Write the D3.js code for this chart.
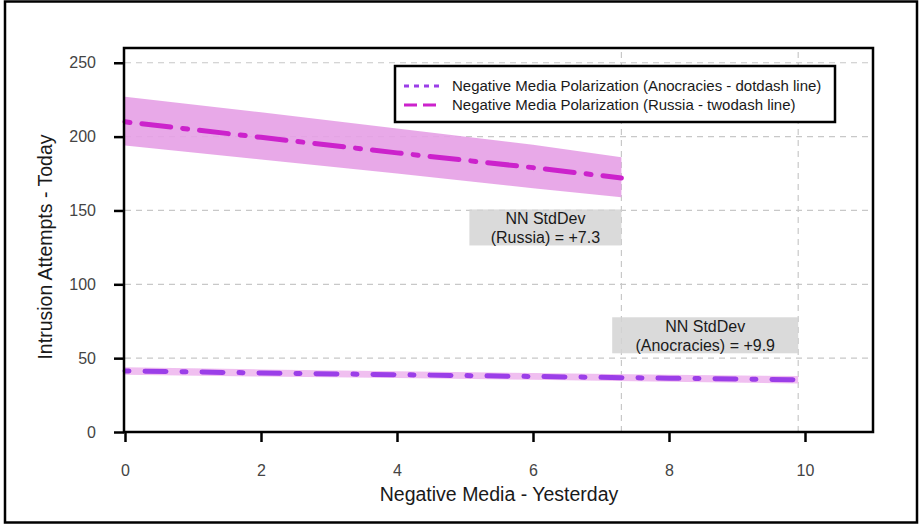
<!DOCTYPE html>
<html lang="en">
<head>
<meta charset="UTF-8">
<title>Negative Media Polarization</title>
<script src="https://d3js.org/d3.v7.min.js"></script>
<style>
    body { margin: 0; background: #ffffff; font-family: 'Liberation Sans', Arial, sans-serif; }
    .tick text { fill: #444; font-size: 16px; }
    .tick line { stroke: #000; stroke-width: 2.5; }
</style>
</head>
<body>
<svg width="920" height="525"></svg>
<script>
    // ---- data ----
    const xTicks = [0, 2, 4, 6, 8, 10];
    const yTicks = [0, 50, 100, 150, 200, 250];
    const vLines = [7.3, 9.9];

    const russiaX = [0, 2, 4, 6, 7.3];
    const russiaFit = [210, 199.5, 189, 179, 172];
    const russiaUpper = [227, 216.5, 205.5, 194.5, 186];
    const russiaLower = [194, 184.5, 175, 165, 159];

    const anocX = [0, 2, 4, 6, 8, 9.9];
    const anocFit = [41.3, 40, 38.8, 37.6, 36.4, 35.4];
    const anocUpper = [43.8, 42.4, 41.1, 39.9, 38.8, 37.9];
    const anocLower = [38.8, 37.6, 36.5, 35.3, 34.0, 32.9];

    const legendLabels = [
        "Negative Media Polarization (Anocracies - dotdash line)",
        "Negative Media Polarization (Russia - twodash line)"
    ];
    const notes = [
        { x: 7.3, y: 150, lines: ["NN StdDev", "(Russia) = +7.3"] },
        { x: 9.9, y: 77, lines: ["NN StdDev", "(Anocracies) = +9.9"] }
    ];

    const svg = d3.select("svg");

    // outer frame
    svg.append("rect")
        .attr("x", 5).attr("y", 1.5).attr("width", 912).attr("height", 521)
        .attr("fill", "#fff").attr("stroke", "#000").attr("stroke-width", 2.5);

    const x = d3.scaleLinear().domain([0, 11]).range([125, 873]);
    const y = d3.scaleLinear().domain([0, 260]).range([432, 48]);

    // grid
    svg.append("g").selectAll("line")
        .data(yTicks.filter(d => d > 0))
        .join("line")
        .attr("x1", x(0)).attr("x2", x(11))
        .attr("y1", d => y(d)).attr("y2", d => y(d))
        .attr("stroke", "#c8c8c8").attr("stroke-width", 1.2)
        .attr("stroke-dasharray", "6,5");

    svg.append("g").selectAll("line")
        .data(vLines)
        .join("line")
        .attr("x1", d => x(d)).attr("x2", d => x(d))
        .attr("y1", y(0)).attr("y2", y(260))
        .attr("stroke", "#c8c8c8").attr("stroke-width", 1.2)
        .attr("stroke-dasharray", "6,5");

    // annotation boxes
    notes.forEach(n => {
        const g = svg.append("g");
        const right = x(n.x);
        const w = n.lines[1].length > 16 ? 186 : 152;
        g.append("rect")
            .attr("x", right - w).attr("y", y(n.y) - 1)
            .attr("width", w).attr("height", 36)
            .attr("fill", "#d3d3d3").attr("opacity", 0.85);
        g.selectAll("text")
            .data(n.lines)
            .join("text")
            .attr("x", right - w / 2)
            .attr("y", (d, i) => y(n.y) + 14 + i * 18.5)
            .attr("text-anchor", "middle")
            .attr("font-size", 16)
            .attr("fill", "#1a1a1a")
            .text(d => d);
    });

    // confidence bands
    const area = d3.area().x(d => x(d[0])).y0(d => y(d[1])).y1(d => y(d[2]));
    const line = d3.line().x(d => x(d[0])).y(d => y(d[1]));

    svg.append("path")
        .datum(russiaX.map((v, i) => [v, russiaLower[i], russiaUpper[i]]))
        .attr("d", area).attr("fill", "#e6a0e6").attr("opacity", 0.9);
    svg.append("path")
        .datum(anocX.map((v, i) => [v, anocLower[i], anocUpper[i]]))
        .attr("d", area).attr("fill", "#eeb8ee").attr("opacity", 0.9);

    svg.append("path")
        .datum(russiaX.map((v, i) => [v, russiaFit[i]]))
        .attr("d", line).attr("fill", "none")
        .attr("stroke", "#cc22cc").attr("stroke-width", 5)
        .attr("stroke-linecap", "round")
        .attr("stroke-dasharray", "5,12,29,12");
    svg.append("path")
        .datum(anocX.map((v, i) => [v, anocFit[i]]))
        .attr("d", line).attr("fill", "none")
        .attr("stroke", "#9b3ee8").attr("stroke-width", 5)
        .attr("stroke-linecap", "round")
        .attr("stroke-dasharray", "4,16,21,16");

    // panel box
    svg.append("rect")
        .attr("x", 124).attr("y", 48).attr("width", 749).attr("height", 384)
        .attr("fill", "none").attr("stroke", "#000").attr("stroke-width", 2.5);

    // axes
    svg.append("g")
        .attr("transform", `translate(0,${y(0)})`)
        .call(d3.axisBottom(x).tickValues(xTicks).tickSize(10).tickPadding(23))
        .call(g => g.select(".domain").remove());
    svg.append("g")
        .attr("transform", `translate(${x(0) - 1},0)`)
        .call(d3.axisLeft(y).tickValues(yTicks).tickSize(10).tickPadding(18))
        .call(g => g.select(".domain").remove());

    // axis titles
    svg.append("text")
        .attr("x", 499).attr("y", 501)
        .attr("text-anchor", "middle").attr("font-size", 19.5).attr("fill", "#1a1a1a")
        .text("Negative Media - Yesterday");
    svg.append("text")
        .attr("transform", "translate(52,247) rotate(-90)")
        .attr("text-anchor", "middle").attr("font-size", 19.5).attr("fill", "#1a1a1a")
        .text("Intrusion Attempts - Today");

    // legend
    const leg = svg.append("g");
    leg.append("rect")
        .attr("x", 395).attr("y", 66).attr("width", 440).attr("height", 56)
        .attr("fill", "#fff").attr("stroke", "#000").attr("stroke-width", 2.5);
    const legStyles = [
        { color: "#9b3ee8", dash: "5,5" },
        { color: "#cc22cc", dash: "13,6" }
    ];
    legendLabels.forEach((t, i) => {
        const yy = 86 + i * 19;
        leg.append("line")
            .attr("x1", 404).attr("x2", 440).attr("y1", yy).attr("y2", yy)
            .attr("stroke", legStyles[i].color).attr("stroke-width", 3)
            .attr("stroke-dasharray", legStyles[i].dash);
        leg.append("text")
            .attr("x", 452).attr("y", yy + 5)
            .attr("font-size", 15).attr("fill", "#1a1a1a")
            .text(t);
    });
</script>
</body>
</html>
